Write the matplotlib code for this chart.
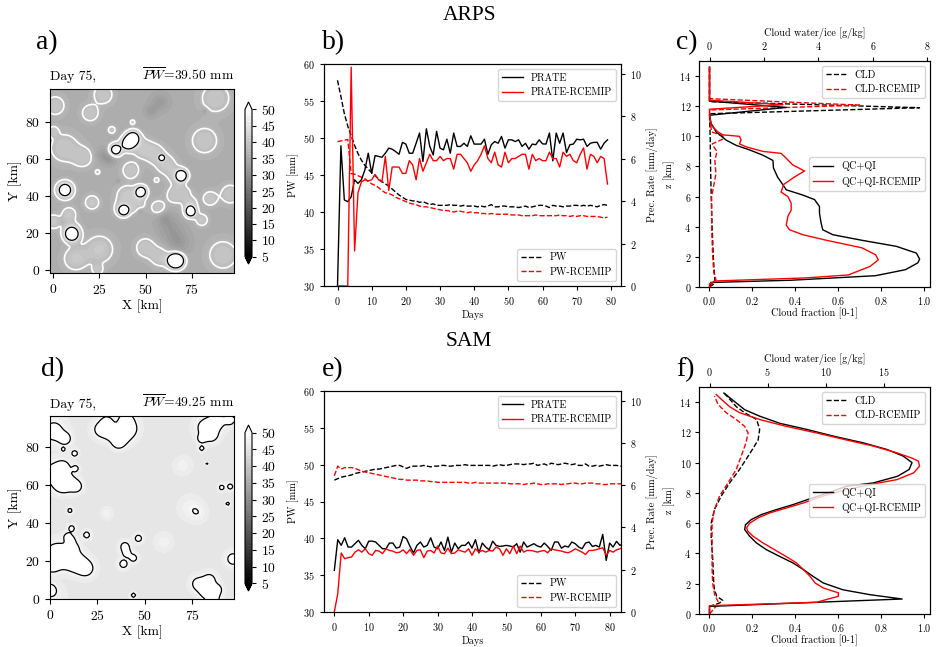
import numpy as np
import matplotlib
matplotlib.use("Agg")
import matplotlib.pyplot as plt

plt.rcParams['font.family'] = 'serif'
plt.rcParams['font.serif'] = ['cmr10', 'DejaVu Serif']
plt.rcParams['mathtext.fontset'] = 'cm'
plt.rcParams['axes.formatter.use_mathtext'] = True

# ---------------- time series (panels b, e) ----------------
days_arps = np.arange(80)
pw_arps = [57.8, 55.6, 53.3, 51.6, 50.3, 49.0, 47.9, 47.0, 46.3, 45.8,
           45.3, 44.9, 44.5, 44.1, 43.8, 43.5, 43.1, 42.7, 42.3, 42.0,
           41.7, 41.6, 41.5, 41.5, 41.3, 41.4, 41.2, 41.0, 41.1, 40.9,
           40.9, 40.9, 40.9, 41.0, 40.9, 40.9, 40.8, 40.9, 40.8, 40.8,
           40.8, 40.7, 40.8, 40.7, 40.8, 41.0, 40.7, 40.7, 40.8, 40.8,
           40.7, 40.7, 40.7, 40.6, 40.7, 40.8, 40.6, 40.7, 40.8, 40.9,
           40.9, 40.8, 40.6, 40.9, 40.8, 40.8, 40.7, 40.8, 40.8, 40.9,
           40.9, 40.8, 40.9, 40.8, 40.9, 40.8, 40.7, 40.9, 41.0, 40.9]
pw_arps_rce = [49.5, 49.6, 49.7, 49.8, 45.2, 45.1, 44.9, 44.7, 44.5, 44.1,
               43.8, 43.6, 43.3, 42.9, 42.6, 42.5, 42.3, 42.0, 41.8, 41.6,
               41.4, 41.2, 41.1, 41.0, 40.8, 40.7, 40.7, 40.6, 40.5, 40.4,
               40.3, 40.2, 40.2, 40.1, 40.0, 40.1, 40.1, 40.0, 39.9, 40.0,
               39.9, 39.9, 39.8, 39.8, 39.7, 39.8, 39.7, 39.7, 39.7, 39.7,
               39.7, 39.6, 39.6, 39.6, 39.5, 39.5, 39.5, 39.5, 39.6, 39.5,
               39.5, 39.5, 39.5, 39.5, 39.5, 39.6, 39.5, 39.5, 39.4, 39.5,
               39.4, 39.5, 39.5, 39.4, 39.4, 39.4, 39.4, 39.3, 39.2, 39.3]
pr_arps = [0.0, 6.6, 4.05, 3.97, 4.2, 5.0, 4.83, 5.0, 5.46, 6.25,
           5.3, 6.14, 6.1, 6.06, 6.25, 6.49, 6.44, 6.33, 6.2, 6.76,
           6.68, 6.25, 6.25, 6.72, 7.2, 5.86, 7.4, 6.57, 6.17, 7.28,
           6.49, 6.41, 6.91, 6.25, 7.2, 6.57, 6.57, 6.72, 6.57, 7.07,
           6.68, 6.68, 6.68, 6.91, 6.2, 6.65, 6.8, 6.72, 7.04, 6.49,
           6.88, 6.88, 6.8, 6.88, 6.57, 6.72, 6.44, 6.68, 6.65, 6.88,
           6.69, 6.68, 7.2, 5.89, 7.2, 6.72, 7.2, 6.28, 6.65, 6.68,
           6.91, 6.88, 6.91, 6.57, 6.72, 6.76, 6.76, 6.44, 6.72, 6.88]
pr_arps_rce = [0.0, 0.0, 0.0, 0.0, 10.3, 1.65, 4.4, 4.9, 5.0, 4.95,
               5.0, 5.25, 5.0, 4.9, 6.1, 4.5, 5.6, 5.6, 5.6, 5.3,
               5.3, 5.9, 5.7, 5.0, 6.0, 5.4, 5.8, 6.2, 5.9, 5.9,
               6.1, 5.9, 6.0, 6.0, 5.5, 6.2, 6.2, 6.0, 5.8, 5.4,
               5.7, 5.9, 6.2, 6.6, 6.0, 5.8, 6.3, 5.7, 5.6, 6.3,
               5.8, 6.0, 6.0, 6.1, 6.2, 6.2, 5.5, 6.2, 5.9, 6.0,
               5.9, 5.9, 6.3, 6.0, 6.0, 5.6, 6.3, 6.1, 6.2, 5.9,
               5.8, 6.2, 6.5, 5.5, 6.2, 6.1, 5.8, 6.1, 6.0, 4.8]

days_sam = np.arange(85)
pw_sam = [47.9, 48.1, 48.3, 48.4, 48.5, 48.6, 48.8, 48.9, 49.0, 49.1,
          49.2, 49.3, 49.4, 49.4, 49.5, 49.6, 49.7, 49.8, 49.9, 49.9,
          49.7, 49.5, 49.7, 49.8, 49.8, 49.8, 49.9, 49.8, 49.7, 49.8,
          49.8, 49.9, 49.9, 49.8, 49.8, 49.9, 49.9, 49.9, 50.0, 49.9,
          49.9, 49.9, 49.9, 49.9, 49.9, 49.9, 49.8, 49.9, 50.0, 49.9,
          49.9, 50.0, 50.1, 50.1, 50.1, 50.0, 50.1, 50.1, 50.2, 49.9,
          50.0, 50.1, 49.9, 50.2, 50.1, 50.0, 50.1, 50.2, 50.1, 50.0,
          50.1, 49.9, 49.9, 50.1, 49.8, 49.8, 49.9, 49.8, 49.9, 50.0,
          49.9, 49.9, 49.9, 49.8, 49.8]
pw_sam_rce = [48.5, 49.8, 49.4, 49.6, 49.6, 49.6, 49.5, 49.3, 49.1, 49.0,
              48.9, 48.8, 48.7, 48.6, 48.5, 48.4, 48.3, 48.2, 48.1, 48.0,
              48.0, 47.9, 47.9, 47.9, 47.9, 47.8, 47.8, 47.8, 47.7, 47.7,
              47.6, 47.6, 47.6, 47.6, 47.6, 47.6, 47.6, 47.6, 47.6, 47.5,
              47.5, 47.6, 47.5, 47.5, 47.5, 47.5, 47.5, 47.5, 47.5, 47.5,
              47.5, 47.4, 47.4, 47.4, 47.4, 47.3, 47.4, 47.4, 47.5, 47.4,
              47.3, 47.3, 47.4, 47.4, 47.4, 47.4, 47.3, 47.4, 47.4, 47.5,
              47.5, 47.4, 47.4, 47.5, 47.5, 47.5, 47.4, 47.4, 47.3, 47.3,
              47.4, 47.4, 47.4, 47.4, 47.4]
pr_sam = [1.97, 3.42, 3.15, 3.51, 3.07, 3.07, 3.23, 3.39, 3.15, 2.99,
          3.35, 3.35, 3.31, 3.15, 2.99, 2.99, 3.26, 3.26, 3.02, 3.07,
          3.57, 3.46, 3.10, 2.79, 3.15, 3.31, 3.07, 3.15, 3.51, 3.07,
          2.99, 3.31, 2.91, 3.54, 2.83, 3.26, 2.99, 3.15, 3.15, 3.31,
          3.02, 3.42, 2.79, 3.26, 3.07, 2.94, 3.35, 3.15, 3.10, 3.12,
          3.15, 3.12, 3.07, 3.23, 2.83, 3.31, 3.07, 3.15, 3.23, 3.12,
          3.07, 3.26, 3.10, 2.91, 3.31, 3.31, 3.02, 3.12, 3.07, 3.31,
          3.23, 3.07, 2.99, 3.26, 3.31, 3.10, 3.15, 3.07, 3.67, 2.44,
          3.26, 3.07, 3.34, 3.15, 3.23]
pr_sam_rce = [0.0, 0.87, 2.79, 2.52, 2.57, 2.60, 2.83, 2.94, 2.83, 2.99,
              2.76, 2.68, 2.91, 2.88, 2.76, 2.99, 2.91, 2.88, 2.80, 2.83,
              2.94, 2.76, 2.96, 2.68, 2.91, 2.94, 2.57, 2.88, 2.91, 2.79,
              3.12, 2.79, 2.76, 3.02, 2.76, 2.79, 2.94, 2.88, 2.83, 2.99,
              2.68, 2.99, 2.83, 2.91, 2.83, 2.91, 2.88, 3.07, 2.99, 2.68,
              2.99, 2.76, 3.12, 2.76, 3.12, 2.83, 2.91, 2.91, 2.88, 2.83,
              2.88, 2.91, 2.80, 2.99, 2.94, 2.91, 2.88, 2.83, 2.80, 2.88,
              2.99, 2.91, 2.83, 2.72, 2.91, 2.91, 2.94, 2.99, 3.04, 2.68,
              2.91, 2.83, 2.94, 2.99, 3.07]

# ---------------- profiles (panels c, f) ----------------
c_cld_z = [0.0, 0.2, 0.5, 1.0, 2.0, 4.0, 6.0, 8.0, 9.0, 10.0, 10.5, 11.0, 11.5, 11.9, 12.3, 13.0, 14.0, 14.6]
c_cld = [0.0, 0.02, 0.025, 0.022, 0.018, 0.012, 0.008, 0.005, 0.004, 0.003, 0.002, 0.001, 0.0, 0.98, 0.0, 0.0, 0.0, 0.0]
c_cld_rce_z = [0.0, 0.2, 0.5, 1.0, 2.0, 4.0, 6.0, 7.5, 8.4, 9.0, 9.3, 9.5, 9.8, 10.0, 10.3, 11.0,
               11.75, 12.07, 12.5, 13.0, 14.0, 14.6]
c_cld_rce = [0.0, 0.01, 0.03, 0.02, 0.015, 0.01, 0.01, 0.03, 0.025, 0.035, 0.02, 0.013, 0.06, 0.065, 0.01, 0.003,
             0.0, 0.70, 0.0, 0.0, 0.0, 0.0]
c_qc_z = [0.0, 0.3, 0.45, 0.75, 1.15, 1.6, 1.85, 2.25, 2.7, 3.1, 3.47, 3.8, 4.24, 4.9, 5.34, 5.8, 6.1, 6.45,
          6.8, 7.3, 7.9, 8.4, 8.75, 9.1, 9.4, 9.75, 10.3, 10.86, 11.4, 11.92, 12.34, 13.0, 14.0, 14.6]
c_qc = [0.0, 0.05, 3.0, 6.1, 7.2, 7.65, 7.72, 7.6, 6.86, 5.6, 4.53, 4.16, 4.1, 4.04, 4.04, 3.86, 3.43, 2.82,
        2.69, 2.5, 2.35, 2.33, 1.96, 1.47, 0.98, 0.61, 0.24, 0.06, 0.0, 2.82, 0.0, 0.0, 0.0, 0.0]
c_qc_rce_z = [0.0, 0.2, 0.4, 0.6, 0.8, 1.37, 1.8, 2.14, 2.6, 3.1, 3.47, 3.8, 4.1, 4.7, 5.1, 5.56, 6.0, 6.3,
              6.8, 7.3, 7.7, 8.1, 8.65, 8.87, 9.0, 9.3, 9.5, 9.76, 10.0, 10.1, 10.3, 10.75, 11.4, 11.8,
              12.1, 12.4, 13.0, 14.0, 14.6]
c_qc_rce = [0.0, 0.0, 0.2, 3.5, 5.1, 5.9, 6.2, 6.1, 5.6, 4.3, 3.43, 2.94, 2.82, 2.88, 3.0, 3.0, 2.88, 2.63,
            2.72, 3.12, 3.49, 3.06, 2.76, 2.63, 1.96, 1.35, 1.1, 1.16, 1.1, 0.49, 0.3, 0.06, 0.0, 0.0,
            2.7, 0.0, 0.0, 0.0, 0.0]

f_cld_z = [0.0, 0.5, 0.73, 0.9, 1.17, 1.6, 2.0, 3.4, 5.1, 6.0, 6.9, 7.8, 8.66, 9.55, 10.2, 10.87, 11.5,
           12.2, 12.85, 13.3, 13.7, 14.2, 14.57]
f_cld = [0.0, 0.0, 0.047, 0.062, 0.034, 0.023, 0.02, 0.016, 0.008, 0.008, 0.023, 0.055, 0.094, 0.14, 0.17,
         0.2, 0.227, 0.234, 0.22, 0.164, 0.125, 0.094, 0.07]
f_cld_rce_z = [0.0, 0.5, 0.84, 1.2, 2.0, 3.0, 5.0, 6.0, 6.9, 7.8, 8.66, 9.55, 10.43, 11.3, 11.97, 12.4,
               12.85, 13.3, 13.85, 14.4]
f_cld_rce = [0.0, 0.03, 0.04, 0.025, 0.015, 0.012, 0.012, 0.012, 0.023, 0.047, 0.086, 0.125, 0.148, 0.17,
             0.18, 0.164, 0.125, 0.078, 0.04, 0.023]
f_qc_z = [0.0, 0.5, 0.68, 0.99, 1.28, 1.6, 2.05, 2.5, 2.93, 3.37, 3.8, 4.25, 4.7, 5.14, 5.58, 5.9, 6.24,
          6.57, 6.9, 7.23, 7.6, 8.0, 8.44, 8.66, 9.1, 9.55, 10.0, 10.43, 10.87, 11.3, 11.75, 12.2, 12.6,
          13.07, 13.5, 13.95, 14.3, 14.6]
f_qc = [0.0, 0.0, 6.0, 16.6, 13.8, 11.5, 9.8, 8.9, 8.1, 7.2, 6.06, 4.9, 4.04, 3.46, 3.03, 3.1, 3.6, 4.47,
        5.77, 7.2, 8.6, 10.2, 11.8, 14.1, 16.2, 17.2, 17.45, 16.7, 15.3, 13.3, 10.7, 8.36, 6.06, 4.33, 3.03,
        2.3, 1.73, 1.24]
f_qc_rce_z = [0.0, 0.55, 0.62, 0.77, 1.17, 1.4, 1.72, 2.05, 2.5, 2.93, 3.37, 3.8, 4.25, 4.7, 5.14, 5.47,
              5.7, 6.0, 6.35, 6.68, 7.0, 7.34, 7.8, 8.2, 8.55, 8.88, 9.33, 9.77, 10.1, 10.3, 10.65, 11.1,
              11.5, 11.97, 12.4, 12.85, 13.3, 13.7, 14.2, 14.5]
f_qc_rce = [0.0, 0.0, 3.0, 9.2, 11.1, 11.1, 9.8, 9.1, 8.65, 8.1, 7.5, 6.6, 5.6, 4.6, 3.75, 3.3, 3.2, 3.46,
            4.18, 5.2, 6.6, 8.1, 9.8, 11.7, 13.8, 16.15, 17.6, 18.1, 18.0, 17.45, 16.15, 14.1, 11.8, 9.2,
            6.6, 4.33, 2.6, 1.73, 1.0, 0.58]

# ---------------- PW maps (panels a, d): features (x km, y km, radius km) ----------------
a_moist = [(1, 89, 4), (27, 95, 4), (20, 85, 3.5), (6, 66, 6), (16, 61, 4), (31.7, 75.8, 1.5), (43, 80, 1),
           (88, 93, 6), (82, 70, 5.5), (48, 66, 4), (55, 63, 4), (61, 57, 4), (67, 51, 3.5), (71, 44, 3),
           (74, 36, 3), (42, 54, 3.5), (24, 53, 1), (56, 48.6, 1), (40, 40, 4.5), (45, 36, 3.5), (37, 33, 3),
           (21, 36.5, 3), (8.5, 30, 3), (57, 33.6, 3), (66, 40.5, 3.5), (85, 38.6, 3), (96, 41, 4),
           (80.5, 27, 2.5), (25, 11, 6), (12, 6, 5), (10, 21, 3.5), (0, 26, 3), (50, 12, 4), (58, 7, 4),
           (66, 4, 3), (92, 8, 6), (24, 0, 2), (0, 75, 2)]
a_dry = [(58, 91, 3.5), (53, 86, 2.5), (27, 62, 3), (31, 60, 2.5), (64, 22, 5), (68, 14, 4.5), (60, 28, 3),
         (73, 46, 2), (82, 86, 1.2), (47, 32, 1.2), (35, 48, 1)]
a_cloud = [(6.3, 43.2, 2.7), (10, 19.2, 2.5), (40.5, 68.5, 2.4), (43.2, 71.5, 2.4), (33.8, 65, 2.1),
           (58.8, 60.7, 1.0), (69.6, 51, 2.0), (47.6, 42.3, 2.0), (38.3, 32.2, 1.8), (74.5, 31.5, 2.0),
           (65.5, 5.0, 2.3), (67.5, 5.0, 2.3)]

d_cloud = [(2, 88, 4), (8, 84, 2.2), (27, 89, 3), (33, 87, 3), (38, 85, 3), (42, 89, 3), (40, 94, 3),
           (30, 93, 2), (36, 82, 2), (7, 78.5, 0.8), (13, 76.4, 1.3), (13.5, 68.5, 1.2), (2, 66, 4),
           (6, 60, 3), (10, 61, 3), (14, 59, 2), (7, 69, 2.5), (10.5, 46.4, 1.0), (11.4, 37, 1.3),
           (9.3, 32.7, 1.4), (19.3, 33.6, 1.4), (3, 24, 4), (9, 22, 4), (14, 19, 3.5), (19, 16, 3),
           (1, 18, 3), (12, 27, 2), (11, 31, 1.5), (0, 5, 2), (39.5, 27.5, 1.9), (40.4, 24, 1.5),
           (44, 21.5, 1.5), (38.7, 18.4, 1.7), (46.6, 31.8, 1.5), (44, 2, 1), (82, 90, 3.5), (88, 93, 3),
           (85, 86, 2.5), (95, 94, 2), (80, 84, 1.5), (80, 79, 1), (82.6, 71, 0.5), (90.5, 58.5, 1.1),
           (95, 59, 1.2), (93.7, 50, 0.8), (96.5, 21, 2.5), (78, 8, 2.5), (84, 10, 2.5), (82, 4, 2.5),
           (88, 5, 2), (86, 0, 2.5)]
d_light = [(74, 48, 4), (78, 45, 3), (60, 30, 3), (2, 2, 4), (70, 70, 3), (30, 45, 2)]

pw_levels = np.arange(5, 51, 1)
cbar_ticks = np.arange(5, 55, 5)


def bumps(xx, yy, blobs, amp, k, grow=1.0):
    out = np.zeros_like(xx)
    for bx, by, br in blobs:
        s = br * grow / k
        out += amp * np.exp(-((xx - bx) ** 2 + (yy - by) ** 2) / (2 * s ** 2))
    return out


# ARPS field
xa = np.linspace(-1.8, 98, 250)
XA, YA = np.meshgrid(xa, xa)
moist_a = bumps(XA, YA, a_moist, 5.0, 1.35, grow=1.25)
pw_a = 35.4 + np.minimum(moist_a, 4.6) - bumps(XA, YA, a_dry, 3.0, 1.0)
cloud_a = bumps(XA, YA, a_cloud, 20.0, 1.0)
pw_a = np.minimum(pw_a + cloud_a, 55)

# SAM field
xd = np.arange(0, 97.01, 1.0)
yd = np.arange(0, 96.01, 1.0)
XD, YD = np.meshgrid(xd, yd)
cloud_d = np.minimum(bumps(XD, YD, d_cloud, 5.0, 1.18, grow=1.25), 6.0)
pw_d = 45.6 + cloud_d + bumps(XD, YD, d_light, 2.0, 1.0)

W, H = 937, 647
fig = plt.figure(figsize=(W / 100, H / 100), dpi=100)
fs_map = 9.8
fs = 7.3


def rect(x0, y0, x1, y1):
    return [x0 / W, 1 - y1 / H, (x1 - x0) / W, (y1 - y0) / H]


def draw_map(r, cr, field, x, y, white_level, black_level, pwbar):
    ax = fig.add_axes(rect(*r))
    cf = ax.contourf(x, y, field, levels=pw_levels, cmap='gray', extend='both')
    if white_level is not None:
        ax.contour(x, y, field, levels=[white_level], colors='white', linewidths=1.2)
    ax.contour(x, y, field, levels=[black_level], colors='black', linewidths=0.9)
    ax.set_xticks([0, 25, 50, 75])
    ax.set_yticks([0, 20, 40, 60, 80])
    ax.tick_params(labelsize=fs_map)
    ax.set_xlabel('X [km]', fontsize=fs_map, labelpad=2)
    ax.set_ylabel('Y [km]', fontsize=fs_map, labelpad=2)
    ax.text(0, 1.03, 'Day 75,', transform=ax.transAxes, fontsize=fs_map, ha='left', va='bottom')
    ax.text(1, 1.03, r'$\overline{PW}$=' + pwbar + ' mm', transform=ax.transAxes, fontsize=fs_map,
            ha='right', va='bottom')
    cax = fig.add_axes(rect(*cr))
    cb = fig.colorbar(cf, cax=cax, ticks=cbar_ticks)
    cb.ax.tick_params(labelsize=fs_map, length=3)
    return ax


draw_map((50, 89, 234, 273), (245, 102, 252, 264), pw_a, xa, xa, 37.6, 46.0, '39.50')
draw_map((50, 416, 234, 599), (245, 425, 252, 591), pw_d, xd, yd, None, 48.5, '49.25')


def draw_series(r, days, pw, pw_rce, pr, pr_rce, xlim):
    ax = fig.add_axes(rect(*r))
    ax.plot(days, pw, 'k--', lw=1.0, label='PW')
    ax.plot(days, pw_rce, '--', color='red', lw=1.0, label='PW-RCEMIP')
    ax.set_ylim(30, 60)
    ax.set_xlim(*xlim)
    ax.set_xticks(np.arange(0, 81, 10))
    ax.set_ylabel('PW [mm]', fontsize=fs, labelpad=3)
    ax.set_xlabel('Days', fontsize=fs, labelpad=2)
    ax.tick_params(labelsize=fs, length=3)
    ax.legend(loc='lower right', fontsize=fs)
    ax2 = ax.twinx()
    ax2.plot(days, pr, 'k-', lw=1.0, label='PRATE')
    ax2.plot(days, pr_rce, '-', color='red', lw=1.0, label='PRATE-RCEMIP')
    ax2.set_ylim(0, 10.45)
    ax2.set_yticks([0, 2, 4, 6, 8, 10])
    ax2.set_ylabel('Prec. Rate [mm/day]', fontsize=fs, labelpad=3)
    ax2.tick_params(labelsize=fs, length=3)
    ax2.legend(loc='upper right', fontsize=fs)


draw_series((324, 64, 621, 286), days_arps, pw_arps, pw_arps_rce, pr_arps, pr_arps_rce, (-3.95, 82.95))
draw_series((324, 391, 621, 612), days_sam, pw_sam, pw_sam_rce, pr_sam, pr_sam_rce, (-3.0, 83.3))


def draw_profile(r, cz, cld, czr, cldr, qz, qc, qzr, qcr, qlim, qticks):
    ax = fig.add_axes(rect(*r))
    ax.plot(cld, cz, 'k--', lw=1.0, label='CLD')
    ax.plot(cldr, czr, '--', color='red', lw=1.0, label='CLD-RCEMIP')
    ax.set_xlim(-0.049, 1.029)
    ax.set_ylim(0, 15)
    ax.set_yticks(np.arange(0, 15, 2))
    ax.set_xlabel('Cloud fraction [0-1]', fontsize=fs, labelpad=1)
    ax.set_ylabel('z [km]', fontsize=fs, labelpad=3)
    ax.tick_params(labelsize=fs, length=3, pad=2.5)
    ax.legend(loc='upper right', fontsize=fs)
    ax2 = ax.twiny()
    ax2.plot(qc, qz, 'k-', lw=1.0, label='QC+QI')
    ax2.plot(qcr, qzr, '-', color='red', lw=1.0, label='QC+QI-RCEMIP')
    ax2.set_xlim(*qlim)
    ax2.set_xticks(qticks)
    ax2.set_xlabel('Cloud water/ice [g/kg]', fontsize=fs, labelpad=3)
    ax2.tick_params(labelsize=fs, length=3)
    ax2.legend(loc='center right', fontsize=fs)


draw_profile((699, 61, 930, 287), c_cld_z, c_cld, c_cld_rce_z, c_cld_rce, c_qc_z, c_qc,
             c_qc_rce_z, c_qc_rce, (-0.386, 8.1), [0, 2, 4, 6, 8])
draw_profile((699, 387, 930, 614), f_cld_z, f_cld, f_cld_rce_z, f_cld_rce, f_qc_z, f_qc,
             f_qc_rce_z, f_qc_rce, (-0.905, 19.0), [0, 5, 10, 15])

# titles and panel letters
big = dict(family='Liberation Serif', fontsize=15.5)
fig.text(470 / W, 1 - 16 / H, 'ARPS', ha='center', va='center', **big)
fig.text(469 / W, 1 - 341 / H, 'SAM', ha='center', va='center', **big)
for lab, px, py in [('a)', 36, 43), ('b)', 322, 43), ('c)', 676, 43),
                    ('d)', 41, 370), ('e)', 322, 370), ('f)', 676, 370)]:
    fig.text(px / W, 1 - py / H, lab, ha='left', va='center', family='Liberation Serif', fontsize=20)

fig.savefig('out.png', dpi=100)
